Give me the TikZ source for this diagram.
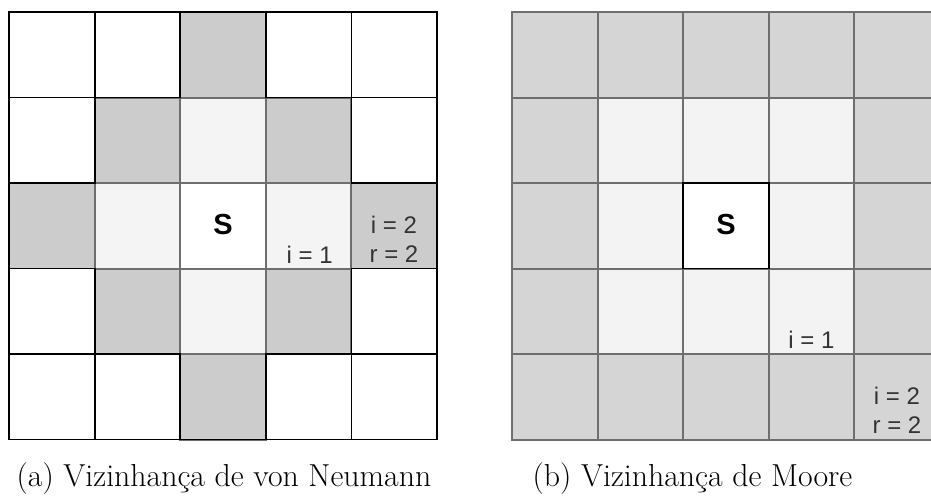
\documentclass[tikz,border=0pt]{standalone}
\usepackage{fontspec}
\newfontfamily\cellfont{Liberation Sans}
\usetikzlibrary{positioning}

\definecolor{cellgray}{HTML}{CCCCCC}
\definecolor{celllight}{HTML}{F4F4F4}
\definecolor{ringgray}{HTML}{D5D5D5}
\definecolor{ringlight}{HTML}{F3F3F3}
\definecolor{edgegray}{HTML}{6E6E6E}
\definecolor{txtgray}{HTML}{333333}

\begin{document}
\begin{tikzpicture}[
  x=0.5pt, y=-0.5pt,
  blackedge/.style={draw=black, line width=0.9pt},
  grayedge/.style={draw=edgegray, line width=1pt},
  seed/.style={font=\cellfont\bfseries\fontsize{14.5}{16}\selectfont, inner sep=0pt},
  dist/.style={font=\cellfont\fontsize{12}{14.5}\selectfont, text=txtgray, inner sep=0pt, align=center},
  subcap/.style={font=\fontsize{15.9}{18}\selectfont, inner sep=0pt, anchor=base}
]
  \useasboundingbox (0,0) rectangle (931,495);
  \clip (0,0) rectangle (931,495);

  % von Neumann grid
  \foreach \c/\r in {2/0,1/1,3/1,0/2,4/2,1/3,3/3,2/4}
    \filldraw[grayedge, fill=cellgray] ({9+85.6*\c},{12+85.5*\r}) rectangle ++(85.6,85.5);
  \foreach \c/\r in {2/1,1/2,3/2,2/3}
    \filldraw[grayedge, fill=celllight] ({9+85.6*\c},{12+85.5*\r}) rectangle ++(85.6,85.5);
  \filldraw[grayedge, fill=white] ({9+85.6*2},{12+85.5*2}) rectangle ++(85.6,85.5);
  \foreach \c/\r in {0/0,1/0,3/0,4/0,0/1,4/1,0/3,4/3,0/4,1/4,3/4,4/4}
    \filldraw[blackedge, fill=white] ({9+85.6*\c},{12+85.5*\r}) rectangle ++(85.6,85.5);
  \draw[blackedge] (9,12) rectangle ++(428,427.5);

  \node[seed] (seedA) at (223,225) {S};
  \node[dist, anchor=base] (oneA) at (309.6,263) {i = 1};
  \node[dist, anchor=base] (twoA) at (394,262.7) {i = 2\\r = 2};

  % Moore grid
  \foreach \c in {0,...,4}
    \foreach \r in {0,...,4}
      \filldraw[grayedge, fill=ringgray] ({512+85.6*\c},{12+85.5*\r}) rectangle ++(85.6,85.5);
  \foreach \c in {1,2,3}
    \foreach \r in {1,2,3}
      \filldraw[grayedge, fill=ringlight] ({512+85.6*\c},{12+85.5*\r}) rectangle ++(85.6,85.5);
  \filldraw[blackedge, fill=white] ({512+85.6*2},{12+85.5*2}) rectangle ++(85.6,85.5);

  \node[seed] (seedB) at (726,225) {S};
  \node[dist, anchor=base] (oneB) at (811.5,348) {i = 1};
  \node[dist, anchor=base] (twoB) at (897,433) {i = 2\\r = 2};

  % captions
  \node[subcap] (capA) at (224,486) {(a) Vizinhança de von Neumann};
  \node[subcap] (capB) at (692.5,486) {(b) Vizinhança de Moore};
\end{tikzpicture}
\end{document}
